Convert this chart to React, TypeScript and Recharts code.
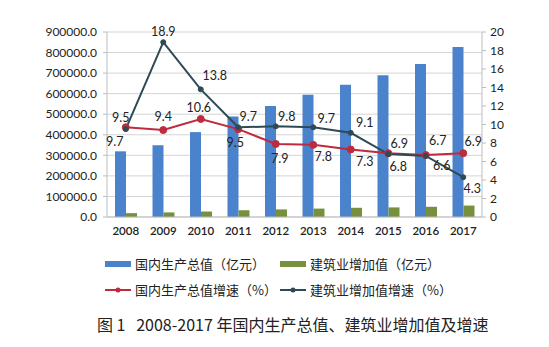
import React from 'react';
import { ComposedChart, Bar, Line, XAxis, YAxis, CartesianGrid, LabelList } from 'recharts';

const years = ['2008', '2009', '2010', '2011', '2012', '2013', '2014', '2015', '2016', '2017'];
const gdp = [319515.5, 349081.4, 413030.3, 489300.6, 540367.4, 595244.4, 643974.0, 689052.1, 744127.2, 827122.0];
const construction = [18743.2, 22398.8, 26660.7, 32926.5, 36896.1, 40896.8, 44880.5, 46626.7, 49702.9, 55689.0];
const gdpRate = [9.7, 9.4, 10.6, 9.5, 7.9, 7.8, 7.3, 6.9, 6.7, 6.9];
const consRate = [9.5, 18.9, 13.8, 9.7, 9.8, 9.7, 9.1, 6.8, 6.6, 4.3];
const leftTicks = [0, 100000, 200000, 300000, 400000, 500000, 600000, 700000, 800000, 900000];
const rightTicks = [0, 2, 4, 6, 8, 10, 12, 14, 16, 18, 20];

const seriesNames = {
  gdp: '国内生产总值（亿元）',
  construction: '建筑业增加值（亿元）',
  gdpRate: '国内生产总值增速（%）',
  consRate: '建筑业增加值增速（%）',
};
const caption = '图 1\u00a0\u00a0\u00a02008-2017 年国内生产总值、建筑业增加值及增速';

// label placement (style config, not data)
const gdpRateLabelOffsets: [number, number][] = [[-11, 14], [0, -14], [-2, -11], [-3, 13], [4, 15], [10, 12], [14, 12], [11, -10], [12, -15], [10, -12]];
const consRateLabelOffsets: [number, number][] = [[-5, -12], [0, -11], [14, -14], [10, -11], [11, -10], [13, -9], [14, -10], [10, 12], [16, 10], [9, 11]];

const data = years.map((y, i) => ({
  year: y,
  gdp: gdp[i],
  construction: construction[i],
  gdpRate: gdpRate[i],
  consRate: consRate[i],
}));

const BLUE = '#4A82CC';
const GREEN = '#76903E';
const RED = '#BE2B3E';
const DARK = '#2E4B55';
const NUMFONT = 'Lato, "Open Sans", sans-serif';
const CJKFONT = '"Noto Sans CJK SC", sans-serif';

const makeLabel = (offsets: [number, number][]) => (props: any) => {
  const { x, y, value, index } = props;
  const [dx, dy] = offsets[index] || [0, -10];
  return (
    <text x={x + dx} y={y + dy} textAnchor="middle" dominantBaseline="central" fontSize={12.5} fontFamily={NUMFONT} fill="#222">
      {Number(value).toFixed(1)}
    </text>
  );
};

const LegendItem = ({ kind, color, label, left, top }: any) => (
  <div style={{ position: 'absolute', left, top, height: 16, display: 'flex', alignItems: 'center', whiteSpace: 'nowrap' }}>
    <svg width={27} height={16} style={{ display: 'block' }}>
      {kind === 'rect' ? (
        <rect x={0} y={5} width={26} height={6} fill={color} />
      ) : (
        <g>
          <line x1={0} y1={8} x2={26} y2={8} stroke={color} strokeWidth={2} />
          <circle cx={13} cy={8} r={2.5} fill={color} />
        </g>
      )}
    </svg>
    <span style={{ fontFamily: CJKFONT, fontSize: 13, color: '#222', marginLeft: 3, lineHeight: '16px' }}>{label}</span>
  </div>
);

export default function App() {
  return (
    <div style={{ position: 'absolute', left: 0, top: 0, width: 549, height: 347, background: '#fff', overflow: 'hidden' }}>
      <ComposedChart width={549} height={347} data={data} margin={{ top: 32, right: 0, left: 0, bottom: 100 }} barGap={0}>
        <CartesianGrid yAxisId="left" vertical={false} stroke="#d4d4d4" />
        <XAxis
          dataKey="year"
          height={30}
          tickLine={false}
          tickSize={0}
          tickMargin={10}
          axisLine={{ stroke: '#bdbdbd' }}
          tick={{ fontSize: 11.5, fontFamily: NUMFONT, fill: '#222', fontWeight: 600 }}
          interval={0}
        />
        <YAxis
          yAxisId="left"
          orientation="left"
          width={107}
          domain={[0, 900000]}
          ticks={leftTicks}
          interval={0}
          tickFormatter={(v: number) => v.toFixed(1)}
          tickSize={4}
          tickMargin={6}
          axisLine={{ stroke: '#bdbdbd' }}
          tickLine={{ stroke: '#bdbdbd' }}
          tick={{ fontSize: 12, fontFamily: NUMFONT, fill: '#222' }}
        />
        <YAxis
          yAxisId="right"
          orientation="right"
          width={67}
          domain={[0, 20]}
          ticks={rightTicks}
          interval={0}
          tickSize={4}
          tickMargin={4}
          axisLine={{ stroke: '#bdbdbd' }}
          tickLine={{ stroke: '#bdbdbd' }}
          tick={{ fontSize: 12, fontFamily: NUMFONT, fill: '#222' }}
        />
        <Bar yAxisId="left" dataKey="gdp" name={seriesNames.gdp} fill={BLUE} barSize={11} isAnimationActive={false} />
        <Bar yAxisId="left" dataKey="construction" name={seriesNames.construction} fill={GREEN} barSize={11} isAnimationActive={false} />
        <Line
          yAxisId="right"
          dataKey="gdpRate"
          name={seriesNames.gdpRate}
          stroke={RED}
          strokeWidth={2}
          dot={{ r: 3.5, fill: RED, stroke: RED, strokeWidth: 1 }}
          isAnimationActive={false}
        >
          <LabelList dataKey="gdpRate" content={makeLabel(gdpRateLabelOffsets)} />
        </Line>
        <Line
          yAxisId="right"
          dataKey="consRate"
          name={seriesNames.consRate}
          stroke={DARK}
          strokeWidth={2}
          dot={{ r: 2.5, fill: DARK, stroke: DARK, strokeWidth: 1 }}
          isAnimationActive={false}
        >
          <LabelList dataKey="consRate" content={makeLabel(consRateLabelOffsets)} />
        </Line>
      </ComposedChart>
      <LegendItem kind="rect" color={BLUE} label={seriesNames.gdp} left={105} top={256} />
      <LegendItem kind="rect" color={GREEN} label={seriesNames.construction} left={280} top={256} />
      <LegendItem kind="line" color={RED} label={seriesNames.gdpRate} left={105} top={282} />
      <LegendItem kind="line" color={DARK} label={seriesNames.consRate} left={280} top={282} />
      <div style={{ position: 'absolute', left: 97, top: 313, fontFamily: CJKFONT, fontSize: 16, color: '#222', whiteSpace: 'nowrap', lineHeight: '22px' }}>
        {caption}
      </div>
    </div>
  );
}
